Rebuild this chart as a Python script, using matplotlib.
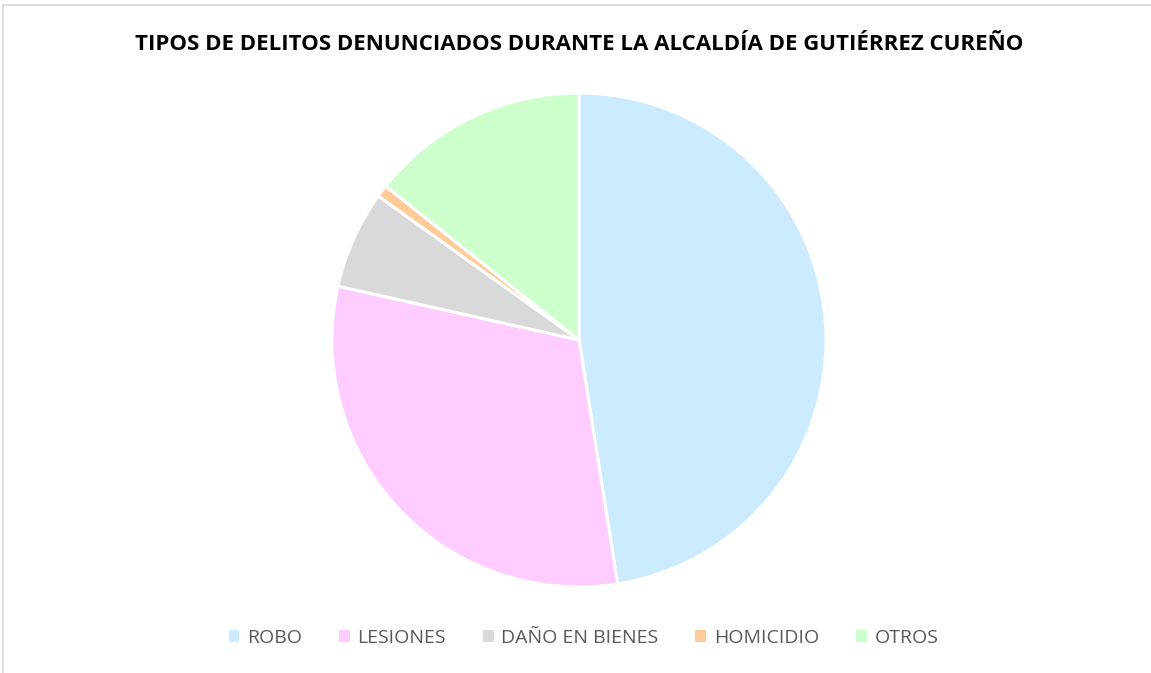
import matplotlib.pyplot as plt
from matplotlib.lines import Line2D
from matplotlib.patches import Patch

categories = ["ROBO", "LESIONES", "DAÑO EN BIENES", "HOMICIDIO", "OTROS"]
values = [47.5, 31.0, 6.4, 0.8, 14.3]
colors = ["#CCEBFF", "#FFCCFF", "#D9D9D9", "#FFCC99", "#CCFFCC"]
title = "TIPOS DE DELITOS DENUNCIADOS DURANTE LA ALCALDÍA DE GUTIÉRREZ CUREÑO"

W, H = 1151, 673
fig = plt.figure(figsize=(W / 100, H / 100), dpi=100)

# pie placed by pixel center / radius from the reference
cx, cy, r = 579, 340, 247
ax = fig.add_axes([(cx - r) / W, (H - cy - r) / H, 2 * r / W, 2 * r / H])
ax.pie(
    values,
    colors=colors,
    startangle=90,
    counterclock=False,
    radius=1,
    wedgeprops=dict(edgecolor="white", linewidth=2.2),
)
ax.set_xlim(-1, 1)
ax.set_ylim(-1, 1)
ax.set_aspect("equal")
ax.axis("off")

fig.text(0.503, 1 - 45 / H, title, ha="center", va="center",
         fontsize=16, fontweight="bold", family="Open Sans", color="black")

handles = [Patch(facecolor=c, edgecolor="none") for c in colors]
fig.legend(handles, categories, loc="center", bbox_to_anchor=(0.507, 1 - 638 / H),
           ncol=5, frameon=False, handlelength=0.55, handleheight=0.55,
           handletextpad=0.4, columnspacing=1.9,
           prop=dict(family="Open Sans", size=14), labelcolor="#595959")

# thin chart-area border (top and left)
fig.add_artist(Line2D([2.5 / W, 1], [1 - 5 / H, 1 - 5 / H], color="#D9D9D9", lw=1.2))
fig.add_artist(Line2D([2.5 / W, 2.5 / W], [0, 1 - 5 / H], color="#D9D9D9", lw=1.2))

fig.savefig("out.png", dpi=100, facecolor="white")
